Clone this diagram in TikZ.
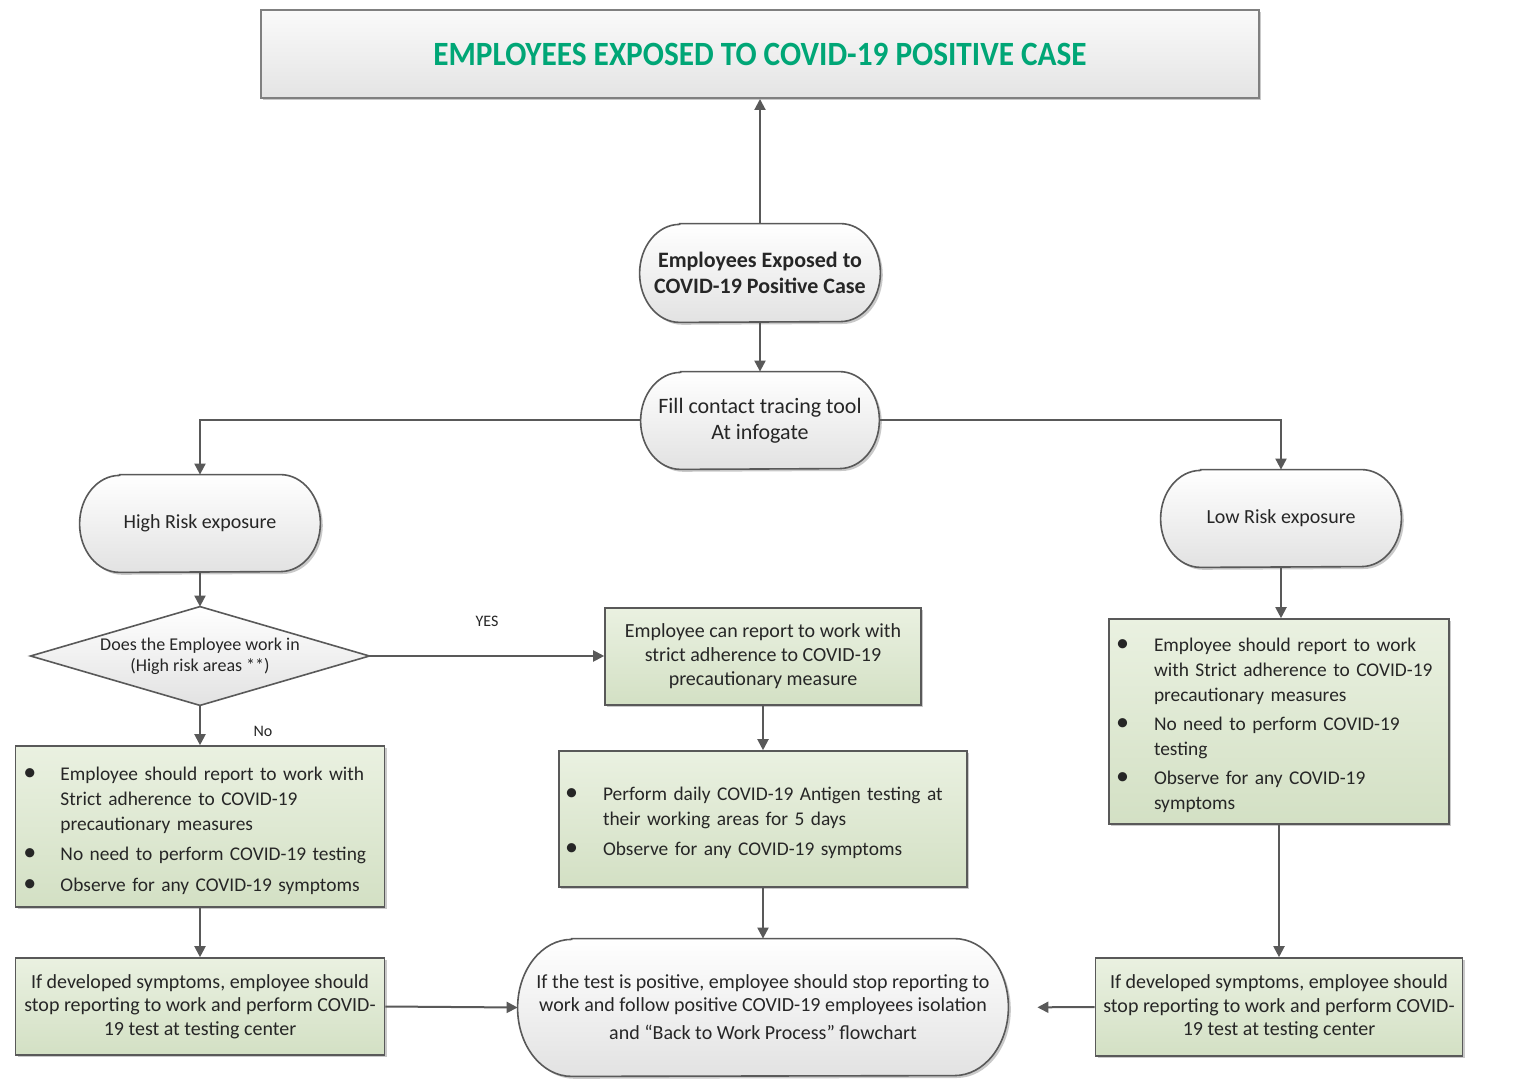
\documentclass[tikz,border=0pt]{standalone}
\usepackage{fontspec}
\setmainfont{Carlito}
\newfontfamily\titlefont[FakeStretch=0.92]{Carlito}
\usetikzlibrary{shadows,arrows.meta}
\pgfdeclarelayer{background}
\pgfsetlayers{background,main}

\definecolor{linegray}{RGB}{89,89,89}
\definecolor{textgray}{RGB}{38,38,38}
\definecolor{termgray}{RGB}{226,226,226}
\definecolor{titlegray}{RGB}{228,228,228}
\definecolor{greentop}{RGB}{234,241,225}
\definecolor{greenbot}{RGB}{211,224,196}
\definecolor{titlegreen}{RGB}{0,166,118}

\newcommand\txtten{\fontsize{10}{12.5}\selectfont}
\newcommand\txtlist{\fontsize{9.7}{12.5}\selectfont}
\newcommand\blt{{\fontsize{13}{12.5}\selectfont\textbullet}}
% bullet list body, set a little lower than the geometric centre
\newcommand\bulletlist[2]{\raisebox{-2pt}[\height][\depth]{%
  \begin{tabular}{@{}p{#1}@{}l@{}}#2\end{tabular}}}

% outline of a terminal: node name, horizontal radius of the ends, half height
\newcommand\termoutline[3]{%
  \path[termshape] ([xshift=#2]#1.north west) -- ([xshift=-#2]#1.north east)
    arc[start angle=90, end angle=-90, x radius=#2, y radius=#3]
    -- ([xshift=#2]#1.south west)
    arc[start angle=270, end angle=90, x radius=#2, y radius=#3] -- cycle;}

\tikzset{
  boxshadow/.style={drop shadow={shadow xshift=1.2pt,shadow yshift=-1.2pt,opacity=0.35,fill=black!60}},
  conn/.style={draw=linegray, line width=1pt, -{Triangle[length=5.5pt,width=5.5pt]}},
  termshape/.style={draw=linegray, line width=0.8pt, top color=white,
    bottom color=termgray, boxshadow},
  term/.style={rectangle, align=center, inner sep=0pt, text=textgray},
  greenbox/.style={rectangle, draw=linegray, line width=0.8pt, top color=greentop,
    bottom color=greenbot, boxshadow, text=textgray, inner sep=0pt},
  listbox/.style={greenbox, align=left, font=\txtlist},
  midbox/.style={greenbox, align=center, font=\txtten},
  titlebox/.style={rectangle, draw=black!50, line width=1pt, top color=white!98!black,
    bottom color=titlegray, boxshadow, text=titlegreen,
    font=\fontsize{17}{20}\selectfont\titlefont\bfseries},
  smalllabel/.style={font=\fontsize{8}{9.6}\selectfont, text=textgray}
}

\begin{document}
\begin{tikzpicture}[x=0.5pt,y=-0.5pt]
\useasboundingbox (0,0) rectangle (1521,1079);
\begin{pgfonlayer}{background}
\fill[white] (0,0) rectangle (1521,1079);
\end{pgfonlayer}

% title banner
\node[titlebox, minimum width=499pt, minimum height=44pt] (title) at (760,54)
  {EMPLOYEES EXPOSED TO COVID-19 POSITIVE CASE};

% terminals
\node[term, minimum width=120pt, minimum height=49pt,
  font=\fontsize{11}{13}\selectfont\bfseries] (exposed) at (760,273)
  {Employees Exposed to\\COVID-19 Positive Case};
\node[term, minimum width=119pt, minimum height=48.5pt,
  font=\fontsize{11}{13}\selectfont] (fill) at (760,420.5)
  {Fill contact tracing tool\\At infogate};
\node[term, minimum width=120pt, minimum height=48.5pt, font=\txtten] (high) at (200,523.5)
  {High Risk exposure};
\node[term, minimum width=120pt, minimum height=48.5pt, font=\txtten] (low) at (1281,518.5)
  {Low Risk exposure};

% decision
\node[minimum width=169pt, minimum height=49pt, inner sep=0pt, align=center,
  text=textgray, font=\fontsize{9}{10.5}\selectfont] (dia) at (200,656)
  {Does the Employee work in\\(High risk areas **)};

% yes branch
\node[midbox, minimum width=158pt, minimum height=48.5pt,
  font=\fontsize{10}{12}\selectfont] (mid1) at (763,656.5)
  {Employee can report to work with\\strict adherence to COVID-19\\precautionary measure};
\node[listbox, text width=198pt, inner xsep=3pt, minimum height=68pt] (mid2) at (763,819)
  {\bulletlist{19pt}{%
   \blt & Perform daily COVID-19 Antigen testing at\\
        & their working areas for 5 days\\[2.5pt]
   \blt & Observe for any COVID-19 symptoms}};

% no branch
\node[listbox, text width=176.5pt, inner xsep=4pt, minimum height=80.5pt] (lbox) at (200,826.5)
  {\bulletlist{18.5pt}{%
   \blt & Employee should report to work with\\
        & Strict adherence to COVID-19\\
        & precautionary measures\\[2.5pt]
   \blt & No need to perform COVID-19 testing\\[3pt]
   \blt & Observe for any COVID-19 symptoms}};
\node[midbox, minimum width=184.5pt, minimum height=48.5pt,
  font=\fontsize{10}{11.8}\selectfont] (lbot) at (200,1006.5)
  {If developed symptoms, employee should\\stop reporting to work and perform COVID-\\19 test at testing center};

% low risk branch
\node[listbox, text width=163pt, inner xsep=3.5pt, minimum height=102.5pt] (rbox) at (1279,721.5)
  {\bulletlist{19pt}{%
   \blt & Employee should report to work\\
        & with Strict adherence to COVID-19\\
        & precautionary measures\\[2pt]
   \blt & No need to perform COVID-19\\
        & testing\\[2pt]
   \blt & Observe for any COVID-19\\
        & symptoms}};
\node[midbox, minimum width=183.5pt, minimum height=49pt,
  font=\fontsize{10}{11.8}\selectfont] (rbot) at (1279,1007)
  {If developed symptoms, employee should\\stop reporting to work and perform COVID-\\19 test at testing center};

% common outcome
\node[term, minimum width=245pt, minimum height=68.5pt,
  font=\fontsize{10}{11.5}\selectfont] (final) at (763,1007.5)
  {If the test is positive, employee should stop reporting to\\work and follow positive COVID-19 employees isolation\\[2.5pt]and “Back to Work Process” flowchart};

% outlines behind the texts
\begin{pgfonlayer}{background}
\termoutline{exposed}{20pt}{24.5pt}
\termoutline{fill}{20pt}{24.25pt}
\termoutline{high}{20pt}{24.25pt}
\termoutline{low}{20pt}{24.25pt}
\termoutline{final}{27pt}{34.25pt}
\path[draw=linegray, line width=0.8pt, top color=white, bottom color=termgray]
  (dia.north) -- (dia.east) -- (dia.south) -- (dia.west) -- cycle;
\end{pgfonlayer}

% connectors
\draw[conn] (exposed.north) -- (title.south);
\draw[conn] (exposed.south) -- (fill.north);
\draw[conn] (fill.west) -| (high.north);
\draw[conn] (fill.east) -| (low.north);
\draw[conn] (high.south) -- (dia.north);
\draw[conn] (dia.east) -- (dia.east -| mid1.west);
\draw[conn] (dia.south) -- (lbox.north);
\draw[conn] (lbox.south) -- (lbot.north);
\draw[conn] (lbot.east) -- (final.west);
\draw[conn] (mid1.south) -- (mid2.north);
\draw[conn] (mid2.south) -- (final.north);
\draw[conn] (low.south) -- (low.south |- rbox.north);
\draw[conn] (rbox.south) -- (rbot.north);
\draw[conn, shorten >=14.5pt] (rbot.west) -- (final.east);

% branch labels
\node[smalllabel] (yes) at (487,621) {YES};
\node[smalllabel] (no) at (263,731) {No};
\end{tikzpicture}
\end{document}
